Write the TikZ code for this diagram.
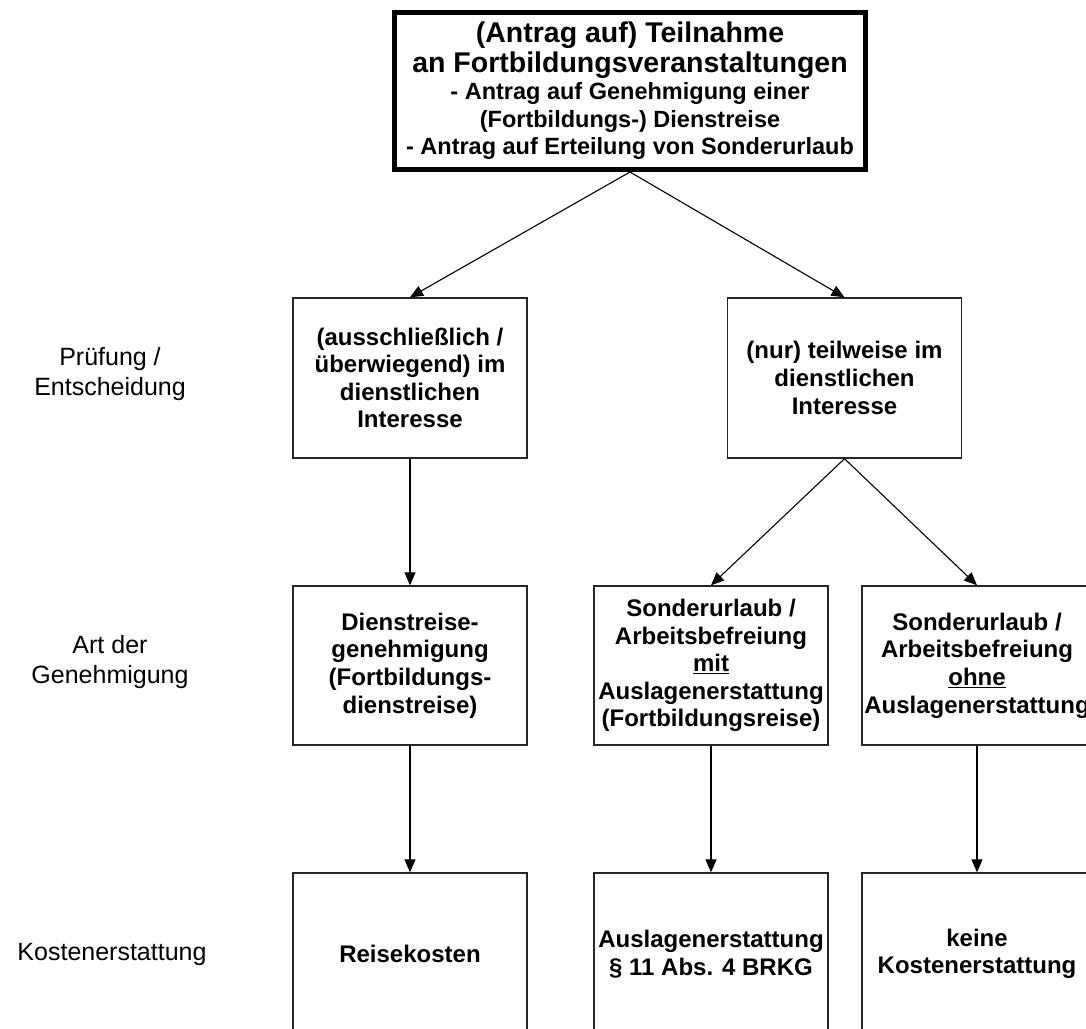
\documentclass[tikz,border=0pt]{standalone}
\usepackage{fontspec}
\setmainfont{Liberation Sans}
\usetikzlibrary{arrows.meta}
\begin{document}
\begin{tikzpicture}[x=1pt,y=-1pt,
  box/.style={draw=black!85, line width=1.4pt, minimum width=234pt, minimum height=160pt,
    align=center, inner sep=0pt, font=\bfseries\fontsize{24}{27.6}\selectfont},
  topbox/.style={draw=black, line width=5pt, minimum width=471pt, minimum height=157pt,
    align=center, inner sep=0pt, font=\bfseries\fontsize{23.5}{27.5}\selectfont},
  lab/.style={align=center, font=\fontsize{25}{30}\selectfont},
  conn/.style={line width=1.1pt, -{Triangle[length=13pt,width=11pt]}}]
\useasboundingbox (0,0) rectangle (1086,1028);
\clip (0,0) rectangle (1086,1028);
\fill[white] (0,0) rectangle (1086,1028);

% top box
\node[topbox] (top) at (630,91) {{\fontsize{28.5}{32}\selectfont (Antrag auf) Teilnahme}\\[2pt]
  {\fontsize{28.5}{32}\selectfont an Fortbildungsveranstaltungen}\\
  - Antrag auf Genehmigung einer\\
  (Fortbildungs-) Dienstreise\\
  - Antrag auf Erteilung von Sonderurlaub};

% row 1
\node[box] (m1) at (410,378) {(ausschließlich /\\überwiegend) im\\dienstlichen\\Interesse};
\node[box] (m2) at (844.5,378) {(nur) teilweise im\\dienstlichen\\Interesse};

% row 2
\node[box, minimum height=159pt] (g1) at (410,665.5) {Dienstreise-\\genehmigung\\(Fortbildungs-\\dienstreise)};
\node[box, minimum height=159pt] (g2) at (711,665.5) {Sonderurlaub /\\Arbeitsbefreiung\\\underline{mit}\\Auslagenerstattung\\(Fortbildungsreise)};
\node[box, minimum height=159pt, minimum width=230pt] (g3) at (977,665.5) {Sonderurlaub /\\Arbeitsbefreiung\\\underline{ohne}\\Auslagenerstattung};

% row 3
\node[box, minimum height=162pt] (k1) at (410,954) {Reisekosten};
\node[box, minimum height=162pt] (k2) at (711,954) {Auslagenerstattung\\§ 11 Abs. 4 BRKG};
\node[box, minimum height=162pt, minimum width=230pt] (k3) at (977,954) {keine\\Kostenerstattung};

% left labels
\node[lab] (l1) at (110,374) {Prüfung /\\Entscheidung};
\node[lab] (l2) at (110,662) {Art der\\Genehmigung};
\node[lab] (l3) at (112,954) {Kostenerstattung};

% connectors
\draw[conn] (top.south) -- (m1.north);
\draw[conn] (top.south) -- (m2.north);
\draw[conn] (m1.south) -- (g1.north);
\draw[conn] (m2.south) -- (g2.north);
\draw[conn] (m2.south) -- (g3.north);
\draw[conn] (g1.south) -- (k1.north);
\draw[conn] (g2.south) -- (k2.north);
\draw[conn] (g3.south) -- (k3.north);
\end{tikzpicture}
\end{document}
